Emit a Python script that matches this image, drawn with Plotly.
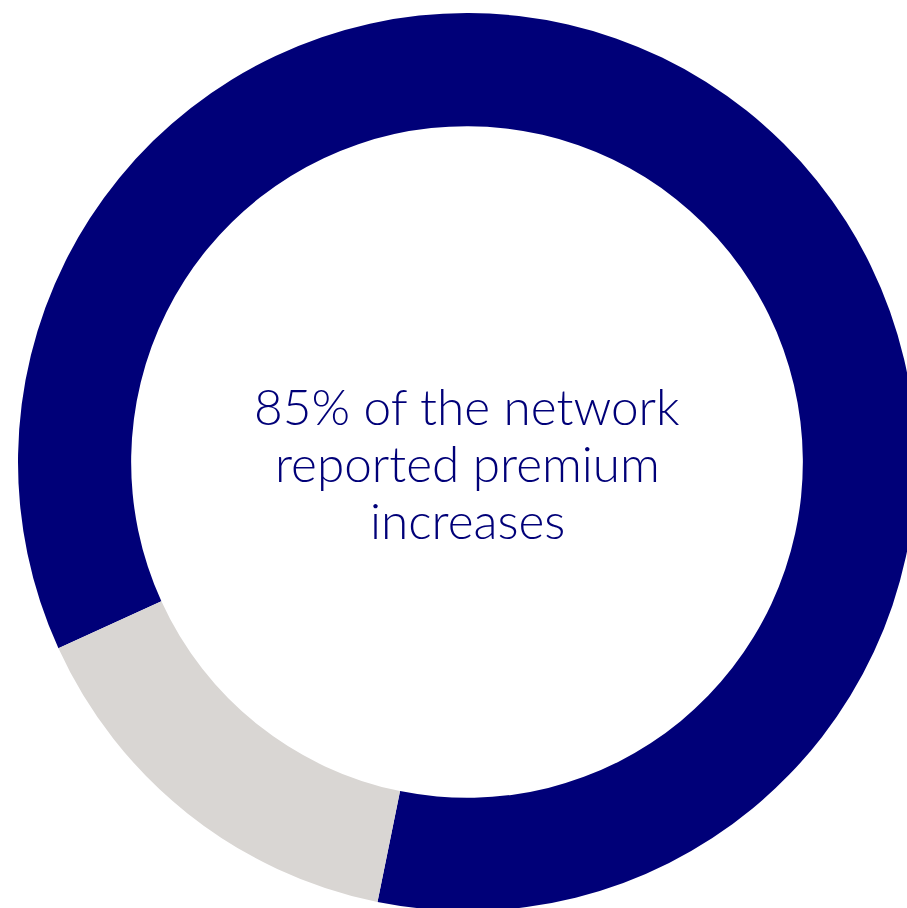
import plotly.graph_objects as go

# Share of the network that reported premium increases
labels = ["Reported premium increases", "No premium increase"]
values = [85, 15]
colors = ["#000078", "#D9D6D3"]
center_text = ["85% of the network", "reported premium", "increases"]

# Canvas: the ring runs slightly past the right and bottom edges of the view
W, H = 916, 911
ring_left, ring_top, ring_size = 18, 13, 898

fig = go.Figure(
    go.Pie(
        labels=labels,
        values=values,
        hole=0.748,
        sort=False,
        direction="clockwise",
        rotation=245.5,
        marker=dict(colors=colors, line=dict(width=0)),
        textinfo="none",
        hoverinfo="label+percent",
        showlegend=False,
        domain=dict(
            x=[ring_left / W, (ring_left + ring_size) / W],
            y=[1 - (ring_top + ring_size) / H, 1 - ring_top / H],
        ),
    )
)

cx_px = ring_left + ring_size / 2
# vertical centre (px from top) of each text line inside the hole
line_y_px = [406, 463, 520]

for line, y_px in zip(center_text, line_y_px):
    fig.add_annotation(
        x=cx_px / W,
        y=1 - y_px / H,
        xref="paper",
        yref="paper",
        text=line,
        showarrow=False,
        xanchor="center",
        yanchor="middle",
        font=dict(family="Lato", size=49.5, color="#000078", weight=300),
    )

fig.update_layout(
    width=W,
    height=H,
    margin=dict(l=0, r=0, t=0, b=0),
    paper_bgcolor="white",
    plot_bgcolor="white",
)

fig.write_html("out.html")
